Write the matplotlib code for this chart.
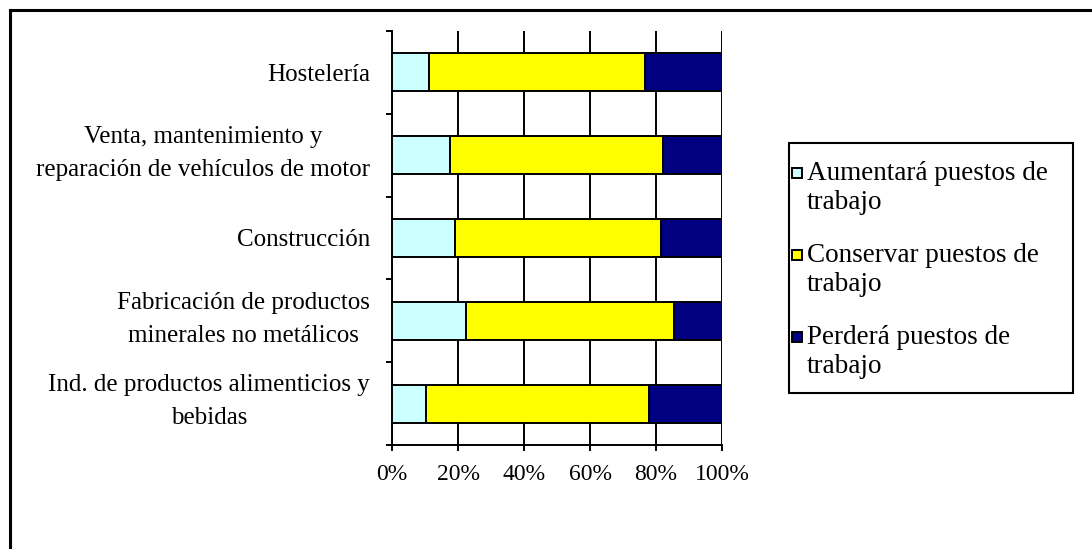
import matplotlib.pyplot as plt
from matplotlib.patches import Rectangle
from matplotlib.lines import Line2D
from matplotlib.transforms import ScaledTranslation
import numpy as np

plt.rcParams['font.family'] = ['Liberation Serif', 'DejaVu Serif']

sectores = ['Hostelería',
            'Venta, mantenimiento y\nreparación de vehículos de motor',
            'Construcción',
            'Fabricación de productos\nminerales no metálicos',
            'Ind. de productos alimenticios y\nbebidas']
aumentara = [11.2, 17.6, 19.2, 22.5, 10.2]
conservar = [65.4, 64.5, 62.2, 62.9, 67.8]
perdera = [23.4, 17.9, 18.6, 14.6, 22.0]

series = ['Aumentará puestos de\ntrabajo',
          'Conservar puestos de\ntrabajo',
          'Perderá puestos de\ntrabajo']
colores = ['#CCFFFF', '#FFFF00', '#000080']
ticks_x = [0, 20, 40, 60, 80, 100]

W, H = 1092, 549
fig = plt.figure(figsize=(W / 100, H / 100), dpi=100)
ax = fig.add_axes([392 / W, 1 - 445 / H, 330 / W, 414 / H])

y = np.arange(len(sectores))
izq = np.zeros(len(sectores))
for vals, col in zip([aumentara, conservar, perdera], colores):
    ax.barh(y, vals, left=izq, height=0.46, color=col,
            edgecolor='black', linewidth=1.4, zorder=3)
    izq += np.array(vals)

ax.set_xlim(0, 100)
ax.set_ylim(len(sectores) - 0.5, -0.5)
ax.set_xticks(ticks_x)
ax.set_xticklabels([f'{t}%' for t in ticks_x], fontsize=17)
ax.xaxis.grid(True, color='black', linewidth=1.4, zorder=0)
ax.set_axisbelow(True)

ax.set_yticks(y)
ax.set_yticks(np.arange(-0.5, len(sectores)), minor=True)
ax.tick_params(axis='y', which='major', length=0, pad=16)
ax.tick_params(axis='y', which='minor', length=4, width=1.4, direction='out')
ax.tick_params(axis='x', length=4, width=1.4, direction='out', pad=10)
ax.set_yticklabels(sectores, fontsize=18, multialignment='center',
                   linespacing=1.65)
# two-line labels sit a little above the centre of their band
subir = ScaledTranslation(0, 7 / 72, fig.dpi_scale_trans)
for lab in ax.get_yticklabels():
    if '\n' in lab.get_text():
        lab.set_transform(lab.get_transform() + subir)

for s in ['top', 'right']:
    ax.spines[s].set_visible(False)
for s in ['left', 'bottom']:
    ax.spines[s].set_linewidth(1.4)
    ax.spines[s].set_color('black')

# legend drawn by hand so the square sits beside the first line of text
fig.patches.append(Rectangle((789 / W, 1 - 393 / H), 284 / W, 250 / H,
                             transform=fig.transFigure, facecolor='white',
                             edgecolor='black', linewidth=1.5, zorder=5))
for i, (lab, col) in enumerate(zip(series, colores)):
    ymid = 173 + i * 82
    fig.patches.append(Rectangle((792 / W, 1 - (ymid + 5) / H), 10 / W, 10 / H,
                                 transform=fig.transFigure, facecolor=col,
                                 edgecolor='black', linewidth=1.4, zorder=6))
    fig.text(807 / W, 1 - (ymid - 12) / H, lab, fontsize=19.5, va='top',
             ha='left', linespacing=1.2, zorder=7)

# outer frame of the chart area
fig.add_artist(Line2D([9.5 / W, 1], [1 - 9.5 / H] * 2, color='black',
                      linewidth=2.2, transform=fig.transFigure))
fig.add_artist(Line2D([9.5 / W] * 2, [0, 1 - 9.5 / H], color='black',
                      linewidth=2.2, transform=fig.transFigure))

fig.savefig('out.png', dpi=100)
